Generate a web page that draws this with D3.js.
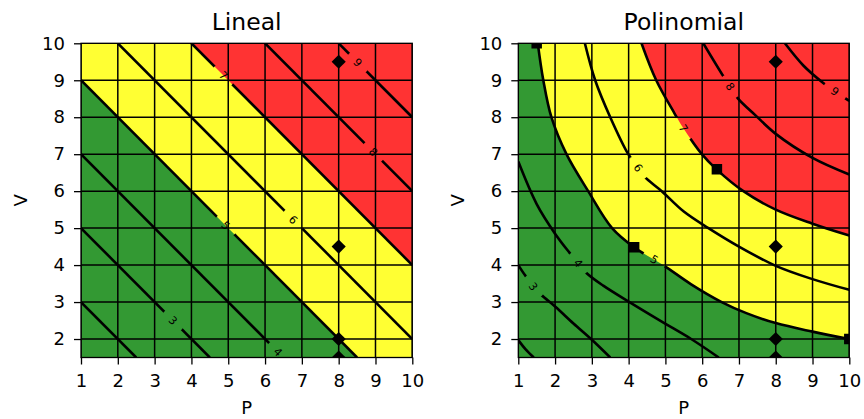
<!DOCTYPE html>
<html>
<head>
<meta charset="utf-8">
<script src="https://cdn.jsdelivr.net/npm/d3@7"></script>
<style>
    body { margin: 0; background: #ffffff; }
    svg text { font-family: "DejaVu Sans", sans-serif; fill: #000000; }
</style>
</head>
<body>
<svg id="chart" width="864" height="419"></svg>
<script>
/* Axis ticks and ranges */
const pTicks = [1, 2, 3, 4, 5, 6, 7, 8, 9, 10];
const vTicks = [2, 3, 4, 5, 6, 7, 8, 9, 10];
const pDomain = [1, 10];
const vDomain = [1.5, 10];

const contourLevels = [2, 3, 4, 5, 6, 7, 8, 9];

/* Lineal: contour lines, points are [P, V] */
const linealLines = [
    [[1, 3], [2.5, 1.5]],
    [[1, 5], [4.5, 1.5]],
    [[1, 7], [6.5, 1.5]],
    [[1, 9], [8.5, 1.5]],
    [[2, 10], [10, 2]],
    [[4, 10], [10, 4]],
    [[6, 10], [10, 6]],
    [[8, 10], [10, 8]]
];
const linealLabelAt = [null, [3.5, 2.5], [6.35, 1.65], [4.93, 5.07], [6.77, 5.23], [4.87, 9.13], [8.94, 7.06], [8.52, 9.48]];

/* Polinomial: contour lines */
const polyLines = [
    [[1, 1.97], [1.2, 1.72], [1.42, 1.5]],
    [[1, 4.0], [1.18, 3.73], [1.41, 3.42], [1.63, 3.19], [2, 2.88], [2.5, 2.42], [3, 1.98], [3.5, 1.5]],
    [[1, 6.8], [1.5, 5.65], [2, 4.85], [2.38, 4.35], [2.63, 4.05], [2.86, 3.78], [3.3, 3.45], [4.1, 2.95], [4.9, 2.47], [5.7, 2.0], [6.45, 1.5]],
    [[1.53, 10], [1.68, 9], [1.9, 8], [2.31, 7], [2.9, 6], [3.55, 5], [4.15, 4.48], [4.94, 4], [5.7, 3.48], [6.53, 3], [7.2, 2.7], [8, 2.43], [9, 2.2], [10, 2.0]],
    [[2.81, 10], [3.09, 9], [3.5, 8], [3.99, 7], [4.26, 6.63], [4.43, 6.39], [4.9, 6], [5.5, 5.45], [6.17, 5], [7, 4.5], [8, 3.98], [9, 3.62], [10, 3.33]],
    [[4.35, 10], [4.75, 9], [5.25, 8.1], [5.49, 7.7], [5.99, 7], [6.39, 6.59], [7.12, 6], [8, 5.5], [9, 5.12], [10, 4.8]],
    [[6.03, 10], [6.58, 9.1], [6.76, 8.83], [6.97, 8.51], [7.45, 8.05], [8, 7.55], [9, 6.9], [10, 6.45]],
    [[8.25, 10], [8.75, 9.4], [9.3, 8.92], [9.61, 8.7], [10, 8.44]]
];
const polyLabelAt = [null, [1.41, 3.42], [2.63, 4.05], [4.7, 4.15], [4.26, 6.63], [5.49, 7.7], [6.76, 8.83], [9.61, 8.7]];

/* Corners that close the green (below level 5) and red (above level 7) regions */
const linealGreenCorners = [[1, 1.5]];
const linealRedCorners = [[10, 10]];
const polyGreenCorners = [[10, 1.5], [1, 1.5], [1, 10]];
const polyRedCorners = [[10, 10]];

/* Markers */
const diamondP = [8, 8, 8, 8];
const diamondV = [9.5, 4.5, 2, 1.5];
const polySquareP = [1.5, 4.15, 6.4, 10];
const polySquareV = [10, 4.48, 6.59, 2];

const colors = { green: "#339933", yellow: "#ffff33", red: "#ff3333" };

let plotTop = 43.3;
let plotBottom = 357.5;

let panels = [
    { id: "lin", title: "Lineal", x0: 81, x1: 412.3, lines: linealLines, labels: linealLabelAt,
      greenCorners: linealGreenCorners, redCorners: linealRedCorners, squareP: [], squareV: [] },
    { id: "pol", title: "Polinomial", x0: 518.3, x1: 849.3, lines: polyLines, labels: polyLabelAt,
      greenCorners: polyGreenCorners, redCorners: polyRedCorners, squareP: polySquareP, squareV: polySquareV }
];

let svg = d3.select("svg#chart");
let defs = svg.append("defs");

panels.forEach(panel => {
    let x = d3.scaleLinear().domain(pDomain).range([panel.x0, panel.x1]);
    let y = d3.scaleLinear().domain(vDomain).range([plotBottom, plotTop]);
    let w = panel.x1 - panel.x0;
    let h = plotBottom - plotTop;

    let line = d3.line()
        .x(d => x(d[0]))
        .y(d => y(d[1]))
        .curve(d3.curveCatmullRom);

    /* clip to plot area */
    defs.append("clipPath").attr("id", "clip-" + panel.id)
        .append("rect")
        .attr("x", panel.x0).attr("y", plotTop)
        .attr("width", w).attr("height", h);

    /* mask that cuts gaps in contour lines for the inline labels */
    let mask = defs.append("mask").attr("id", "gap-" + panel.id)
        .attr("maskUnits", "userSpaceOnUse")
        .attr("x", 0).attr("y", 0).attr("width", 864).attr("height", 419);
    mask.append("rect").attr("x", 0).attr("y", 0).attr("width", 864).attr("height", 419).attr("fill", "white");
    panel.labels.forEach(lp => {
        if (!lp) return;
        mask.append("circle").attr("cx", x(lp[0])).attr("cy", y(lp[1])).attr("r", 12.5).attr("fill", "black");
    });

    let g = svg.append("g").attr("clip-path", "url(#clip-" + panel.id + ")");

    /* Filled regions */
    g.append("rect")
        .attr("x", panel.x0).attr("y", plotTop)
        .attr("width", w).attr("height", h)
        .attr("fill", colors.yellow);

    let level5 = panel.lines[contourLevels.indexOf(5)];
    let level7 = panel.lines[contourLevels.indexOf(7)];

    let greenPath = line(level5) + panel.greenCorners.map(c => "L" + x(c[0]) + "," + y(c[1])).join("") + "Z";
    let redPath = line(level7) + panel.redCorners.map(c => "L" + x(c[0]) + "," + y(c[1])).join("") + "Z";

    g.append("path").attr("d", greenPath).attr("fill", colors.green);
    g.append("path").attr("d", redPath).attr("fill", colors.red);

    /* Grid */
    g.selectAll("line.vgrid").data(pTicks).enter().append("line")
        .attr("x1", d => x(d)).attr("x2", d => x(d))
        .attr("y1", plotTop).attr("y2", plotBottom)
        .attr("stroke", "#000").attr("stroke-width", 1.5);
    g.selectAll("line.hgrid").data(vTicks).enter().append("line")
        .attr("x1", panel.x0).attr("x2", panel.x1)
        .attr("y1", d => y(d)).attr("y2", d => y(d))
        .attr("stroke", "#000").attr("stroke-width", 1.5);

    /* Contour lines */
    let lineGroup = g.append("g").attr("mask", "url(#gap-" + panel.id + ")");
    panel.lines.forEach(pts => {
        lineGroup.append("path")
            .attr("d", line(pts))
            .attr("fill", "none")
            .attr("stroke", "#000")
            .attr("stroke-width", 2.6);
    });

    /* Contour labels */
    panel.labels.forEach((lp, i) => {
        if (!lp) return;
        let pts = panel.lines[i];
        let k = 0;
        while (k < pts.length - 2 && pts[k + 1][0] < lp[0]) k++;
        let a = pts[k], b = pts[k + 1];
        let angle = Math.atan2(y(b[1]) - y(a[1]), x(b[0]) - x(a[0])) * 180 / Math.PI;
        g.append("text")
            .attr("transform", "translate(" + x(lp[0]) + "," + y(lp[1]) + ")rotate(" + angle + ")")
            .attr("text-anchor", "middle")
            .attr("dy", "0.36em")
            .style("font-size", "11px")
            .text(contourLevels[i]);
    });

    /* Markers */
    diamondP.forEach((p, i) => {
        g.append("path")
            .attr("d", d3.symbol(d3.symbolSquare, 100)())
            .attr("transform", "translate(" + x(p) + "," + y(diamondV[i]) + ")rotate(45)")
            .attr("fill", "#000");
    });
    panel.squareP.forEach((p, i) => {
        g.append("path")
            .attr("d", d3.symbol(d3.symbolSquare, 110)())
            .attr("transform", "translate(" + x(p) + "," + y(panel.squareV[i]) + ")")
            .attr("fill", "#000");
    });

    /* Frame */
    svg.append("rect")
        .attr("x", panel.x0).attr("y", plotTop)
        .attr("width", w).attr("height", h)
        .attr("fill", "none").attr("stroke", "#000").attr("stroke-width", 1.3);

    /* Axes */
    let xAxis = svg.append("g")
        .attr("transform", "translate(0," + plotBottom + ")")
        .call(d3.axisBottom(x).tickValues(pTicks).tickFormat(d3.format("d")).tickSize(7).tickPadding(10));
    let yAxis = svg.append("g")
        .attr("transform", "translate(" + panel.x0 + ",0)")
        .call(d3.axisLeft(y).tickValues(vTicks).tickFormat(d3.format("d")).tickSize(7).tickPadding(9));

    [xAxis, yAxis].forEach(ax => {
        ax.select("path.domain").remove();
        ax.selectAll(".tick line").attr("stroke", "#000").attr("stroke-width", 1.3);
        ax.selectAll(".tick text").style("font-size", "18px").attr("fill", "#000")
            .style("font-family", "DejaVu Sans, sans-serif");
    });

    /* Title and axis labels */
    svg.append("text")
        .attr("x", (panel.x0 + panel.x1) / 2).attr("y", 30)
        .attr("text-anchor", "middle")
        .style("font-size", "23.5px")
        .text(panel.title);
    svg.append("text")
        .attr("x", (panel.x0 + panel.x1) / 2).attr("y", 414)
        .attr("text-anchor", "middle")
        .style("font-size", "18px")
        .text("P");
    svg.append("text")
        .attr("transform", "translate(" + (panel.x0 - 54) + "," + ((plotTop + plotBottom) / 2) + ")rotate(-90)")
        .attr("text-anchor", "middle")
        .style("font-size", "18px")
        .text("V");
});
</script>
</body>
</html>
